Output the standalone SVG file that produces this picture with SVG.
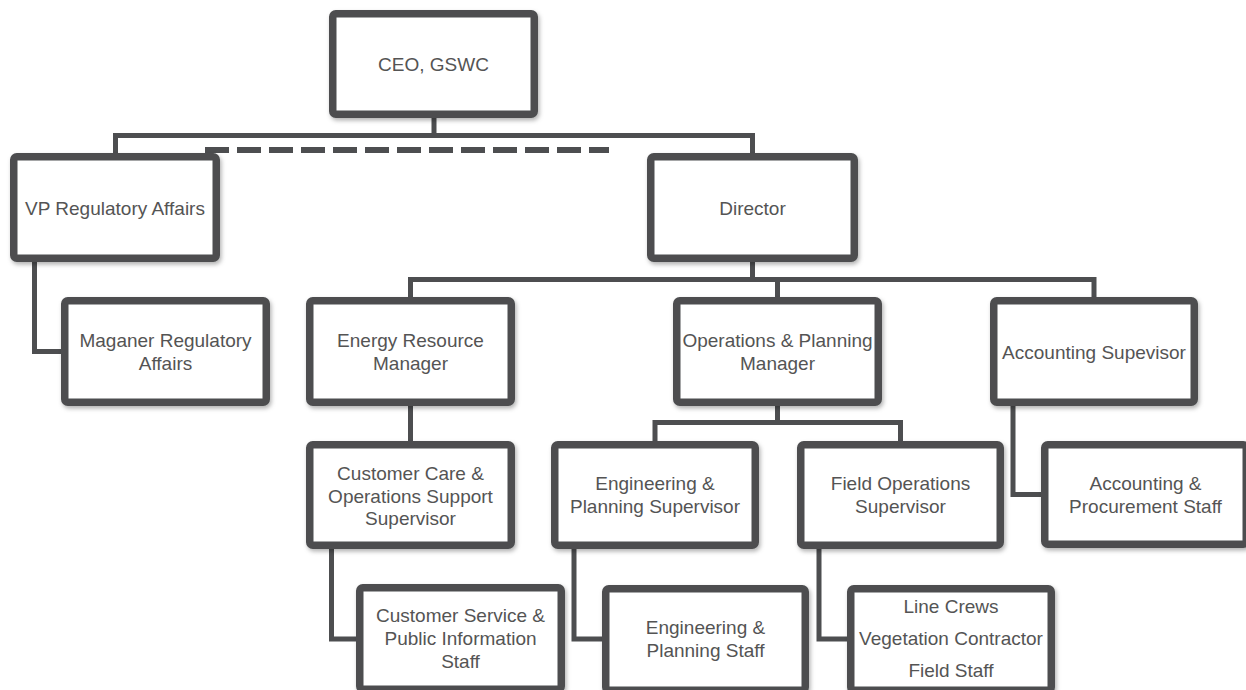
<svg xmlns="http://www.w3.org/2000/svg" width="1246" height="690" viewBox="0 0 1246 690">
<defs>
<filter id="sh" x="-10%" y="-10%" width="125%" height="130%">
<feDropShadow dx="1.5" dy="2.5" stdDeviation="2" flood-color="#000" flood-opacity="0.3"/>
</filter>
</defs>
<style>
.box{fill:#fff;stroke:#4d4e50;stroke-width:7.5;filter:url(#sh)}
.t{font-family:"Liberation Sans",Arial,sans-serif;font-size:19px;fill:#545454;text-anchor:middle}
.c{fill:none;stroke:#4d4e50;stroke-width:5}
.d{fill:none;stroke:#4d4e50;stroke-width:6;stroke-dasharray:24 8}
</style>
<rect width="1246" height="690" fill="#fff"/>
<g id="connectors">
<path class="c" d="M115.5,153 V135.5 H752.5 V153 M434,118 V135.5"/>
<path class="d" d="M205,150 H609"/>
<path class="c" d="M752.5,262 V279.5 M410.5,297 V279.5 H1094 V297 M777.5,279.5 V297"/>
<path class="c" d="M34.5,262 V351.5 H61"/>
<path class="c" d="M410.5,406 V441"/>
<path class="c" d="M777.5,406 V422.5 M655,441 V422.5 H900.5 V441"/>
<path class="c" d="M1013,406 V494.5 H1041"/>
<path class="c" d="M331.5,549 V639 H356"/>
<path class="c" d="M574,549 V639 H602"/>
<path class="c" d="M819,549 V639 H847"/>
</g>
<g id="ceo"><rect class="box" x="332.75" y="13.75" width="201.5" height="100.5" rx="3"/><text class="t" x="433.5" y="71">CEO, GSWC</text></g>
<g id="vp"><rect class="box" x="13.75" y="156.75" width="202.5" height="101.5" rx="3"/><text class="t" x="115" y="215">VP Regulatory Affairs</text></g>
<g id="director"><rect class="box" x="650.75" y="156.75" width="203.5" height="101.5" rx="3"/><text class="t" x="752.5" y="215">Director</text></g>
<g id="maganer"><rect class="box" x="64.75" y="300.75" width="201.5" height="101.5" rx="3"/><text class="t" x="165.5" y="347">Maganer Regulatory</text><text class="t" x="165.5" y="369.5">Affairs</text></g>
<g id="erm"><rect class="box" x="309.75" y="300.75" width="201.5" height="101.5" rx="3"/><text class="t" x="410.5" y="347">Energy Resource</text><text class="t" x="410.5" y="369.5">Manager</text></g>
<g id="opsmgr"><rect class="box" x="676.75" y="300.75" width="201.5" height="101.5" rx="3"/><text class="t" x="777.5" y="347">Operations &amp; Planning</text><text class="t" x="777.5" y="369.5">Manager</text></g>
<g id="acctsup"><rect class="box" x="993.75" y="300.75" width="200.5" height="101.5" rx="3"/><text class="t" x="1094" y="358.5">Accounting Supevisor</text></g>
<g id="ccsup"><rect class="box" x="309.75" y="444.75" width="201.5" height="100.5" rx="3"/><text class="t" x="410.5" y="480">Customer Care &amp;</text><text class="t" x="410.5" y="502.5">Operations Support</text><text class="t" x="410.5" y="525">Supervisor</text></g>
<g id="epsup"><rect class="box" x="554.75" y="444.75" width="200.5" height="100.5" rx="3"/><text class="t" x="655" y="490">Engineering &amp;</text><text class="t" x="655" y="512.5">Planning Supervisor</text></g>
<g id="fosup"><rect class="box" x="800.75" y="444.75" width="199.5" height="100.5" rx="3"/><text class="t" x="900.5" y="490">Field Operations</text><text class="t" x="900.5" y="512.5">Supervisor</text></g>
<g id="apstaff"><rect class="box" x="1044.75" y="444.75" width="201.5" height="99.5" rx="3"/><text class="t" x="1145.5" y="490">Accounting &amp;</text><text class="t" x="1145.5" y="512.5">Procurement Staff</text></g>
<g id="csstaff"><rect class="box" x="359.75" y="587.75" width="201.5" height="101.5" rx="3"/><text class="t" x="460.5" y="622">Customer Service &amp;</text><text class="t" x="460.5" y="645">Public Information</text><text class="t" x="460.5" y="668">Staff</text></g>
<g id="epstaff"><rect class="box" x="605.75" y="588.75" width="199.5" height="101.5" rx="3"/><text class="t" x="705.5" y="634">Engineering &amp;</text><text class="t" x="705.5" y="656.5">Planning Staff</text></g>
<g id="fieldstaff"><rect class="box" x="850.75" y="588.75" width="200.5" height="101.5" rx="3"/><text class="t" x="951" y="613">Line Crews</text><text class="t" x="951" y="645">Vegetation Contractor</text><text class="t" x="951" y="677">Field Staff</text></g>
</svg>
